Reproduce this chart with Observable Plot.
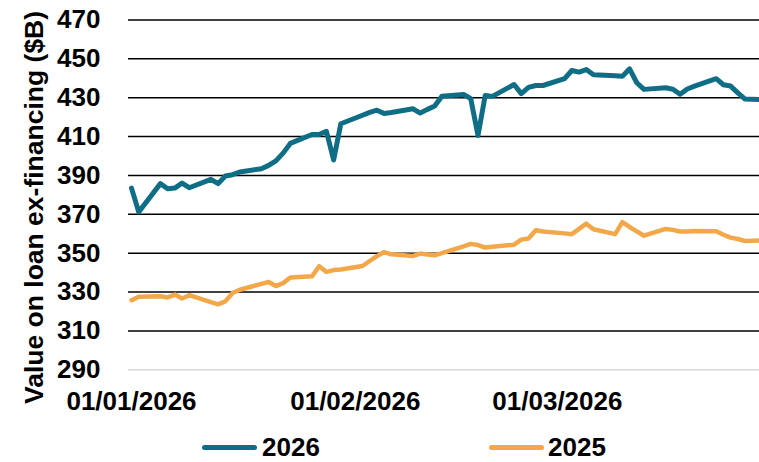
<!DOCTYPE html>
<html><head><meta charset="utf-8">
<script src="https://cdn.jsdelivr.net/npm/d3@7"></script>
<script src="https://cdn.jsdelivr.net/npm/@observablehq/plot@0.6"></script>
<style>
body{margin:0;background:#fff;font-family:"Liberation Sans",Arial,sans-serif;}
#wrap{position:relative;width:759px;height:462px;background:#fff}
.sw{position:absolute;height:5px;border-radius:3px}
.lt{position:absolute;font-size:26px;font-weight:bold;color:#000;line-height:29px;white-space:nowrap}
</style></head><body><div id="wrap"></div>
<script>
const dates = [
"2026-01-01","2026-01-02","2026-01-05","2026-01-06","2026-01-07","2026-01-08","2026-01-09",
"2026-01-12","2026-01-13","2026-01-14","2026-01-15","2026-01-16","2026-01-19","2026-01-20",
"2026-01-21","2026-01-22","2026-01-23","2026-01-26","2026-01-27","2026-01-28","2026-01-29","2026-01-30",
"2026-02-02","2026-02-03","2026-02-04","2026-02-05","2026-02-06","2026-02-09","2026-02-10",
"2026-02-11","2026-02-12","2026-02-13","2026-02-16","2026-02-17","2026-02-18","2026-02-19","2026-02-20",
"2026-02-23","2026-02-24","2026-02-25","2026-02-26","2026-02-27",
"2026-03-02","2026-03-03","2026-03-04","2026-03-05","2026-03-06","2026-03-09","2026-03-10",
"2026-03-11","2026-03-12","2026-03-13","2026-03-16","2026-03-17","2026-03-18","2026-03-19","2026-03-20",
"2026-03-23","2026-03-24","2026-03-25","2026-03-26","2026-03-27","2026-03-30"];
const values2026 = [
383.5,371.2,385.8,383.2,383.5,386.1,383.7,
388.0,385.8,389.7,390.4,391.8,393.5,395.2,
397.5,401.5,406.5,411.1,411.1,412.7,398.0,416.6,
421.0,422.5,423.6,421.9,422.4,424.3,422.1,
424.0,425.7,430.8,431.7,429.5,410.6,431.2,430.7,
436.8,432.1,435.3,436.3,436.3,
439.8,444.0,443.2,444.5,441.8,441.3,441.0,
444.9,437.7,434.3,435.1,434.4,431.8,434.5,436.0,
439.8,436.7,436.0,432.5,429.3,429.0];
const values2025 = [
325.8,327.6,327.8,327.2,328.7,326.7,328.4,
324.8,323.7,325.2,329.5,331.2,334.2,335.2,
333.1,334.6,337.5,338.1,343.3,340.4,341.3,341.6,
343.4,346.0,348.5,350.6,349.4,348.6,349.8,
349.3,348.9,350.0,353.5,354.8,354.2,352.9,353.3,
354.4,357.0,357.6,361.8,361.2,
360.2,359.8,362.5,365.2,362.3,359.8,366.0,
363.5,361.2,359.0,362.5,362.0,361.2,361.2,361.4,
361.3,359.5,358.0,357.3,356.3,356.7];
const seriesNames = ["2026","2025"];
const seriesColors = ["#0f6e86","#f2a84a"];
const yTicks = [290,310,330,350,370,390,410,430,450,470];
const xTickDates = ["2026-01-01","2026-02-01","2026-03-01"];
const yTitle = "Value on loan ex-financing ($B)";

const parse = d3.utcParse("%Y-%m-%d");
const rows2026 = dates.map((d,i)=>({date:parse(d), value:values2026[i], series:seriesNames[0]}));
const rows2025 = dates.map((d,i)=>({date:parse(d), value:values2025[i], series:seriesNames[1]}));

const chart = Plot.plot({
  width:759, height:420,
  marginLeft:128, marginRight:0, marginTop:19.5, marginBottom:50.7,
  style:{fontFamily:"'Liberation Sans', Arial, sans-serif", fontSize:"26px", fontWeight:"bold", color:"#000", background:"#fff", overflow:"visible"},
  x:{type:"utc", domain:[new Date(Date.UTC(2025,11,31,14)), new Date(Date.UTC(2026,2,29,0))]},
  y:{domain:[290,470]},
  marks:[
    Plot.ruleY(yTicks.filter(v=>v!==290), {stroke:"#000", strokeWidth:1.5}),
    Plot.ruleY([290], {stroke:"#d9d9d9", strokeWidth:1.5}),
    Plot.axisY(yTicks, {tickSize:0, tickPadding:28, label:null, fill:"#000"}),
    Plot.axisX(xTickDates.map(parse), {tickSize:0, tickPadding:22, tickFormat:d3.utcFormat("%d/%m/%Y"), label:null, fill:"#000"}),
    Plot.line(rows2025, {x:"date", y:"value", stroke:seriesColors[1], strokeWidth:4.5, strokeLinejoin:"round", strokeLinecap:"round", clip:true}),
    Plot.line(rows2026, {x:"date", y:"value", stroke:seriesColors[0], strokeWidth:5, strokeLinejoin:"round", strokeLinecap:"round", clip:true}),
    Plot.text([yTitle], {frameAnchor:"left", textAnchor:"middle", lineAnchor:"middle", rotate:-90, dx:-94, dy:12.6, fill:"#000", fontSize:26.5})
  ]
});
const wrap = document.getElementById("wrap");
wrap.appendChild(chart);

const legendPos = [{sw:202, tx:262},{sw:489, tx:548}];
seriesNames.forEach((name,i)=>{
  const s = document.createElement("div");
  s.className="sw"; s.style.left=legendPos[i].sw+"px"; s.style.top="445px"; s.style.width="55px"; s.style.background=seriesColors[i];
  wrap.appendChild(s);
  const t = document.createElement("div");
  t.className="lt"; t.style.left=legendPos[i].tx+"px"; t.style.top="433px"; t.textContent=name;
  wrap.appendChild(t);
});
</script></body></html>
